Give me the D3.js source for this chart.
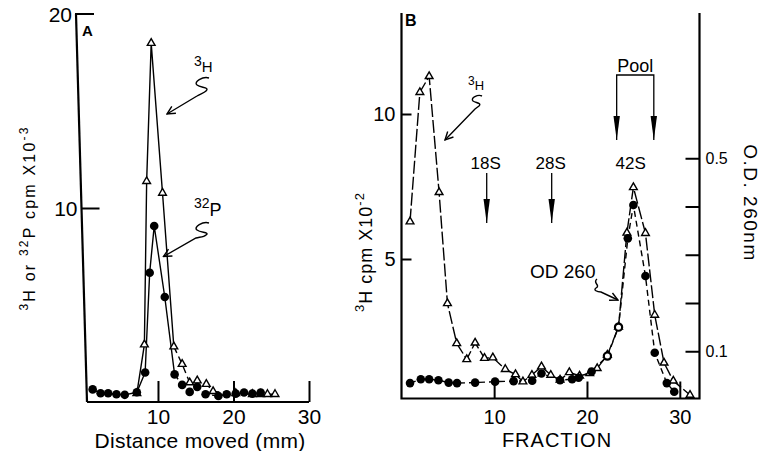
<!DOCTYPE html>
<html>
<head>
<meta charset="utf-8">
<script src="https://cdn.jsdelivr.net/npm/d3@7"></script>
<style>
  body { margin: 0; background: #fff; }
  svg { display: block; }
  text { font-family: "Liberation Sans", Arial, sans-serif; fill: #000; }
</style>
</head>
<body>
<svg id="chart" width="763" height="451"></svg>
<script>
// Panel A: distance moved (mm) vs cpm x10^-3
const distH3 = [7.2, 8.2, 8.5, 9.1, 10.6, 12.1, 13.2, 14.2, 15.2, 16.4, 17.3, 20.3, 22.5, 23.6, 24.5, 25.5];
const cpmH3 = [0.5, 3.0, 11.4, 18.5, 10.8, 2.9, 2.0, 1.05, 1.15, 0.97, 0.6, 0.5, 0.45, 0.45, 0.45, 0.45];
const distP32 = [1.35, 2.4, 3.4, 4.5, 5.6, 7.2, 8.3, 8.9, 9.5, 10.9, 12.2, 13.2, 14.2, 15.2, 16.3, 18.0, 19.1, 20.3, 21.4, 22.5, 23.6];
const cpmP32 = [0.7, 0.5, 0.5, 0.45, 0.42, 0.55, 1.57, 6.7, 9.1, 5.45, 1.47, 0.93, 0.57, 0.83, 0.45, 0.36, 0.45, 0.48, 0.54, 0.48, 0.54];
const ticksAX = [10, 20, 30];
const ticksAY = [10, 20];

// Panel B: fraction vs 3H cpm x10^-2 (left) and OD 260 (right)
const fracH3 = [0.94, 2.0, 3.0, 4.07, 4.97, 5.97, 7.05, 7.95, 8.96, 9.86, 11.2, 12.3, 13.1, 14.07, 15.1, 16.1, 17.1, 18.1, 19.2, 20.3, 21.1, 22.2, 23.4, 24.3, 25.0, 26.3, 27.3, 28.3, 29.3, 31.1];
const cpmH3B = [6.29, 10.75, 11.3, 7.3, 3.47, 2.09, 1.54, 2.11, 1.58, 1.6, 1.2, 1.02, 0.77, 1.0, 1.29, 1.0, 0.83, 1.09, 0.97, 1.06, 1.23, 1.69, 2.66, 5.9, 7.47, 5.89, 3.07, 1.42, 0.8, 0.31];
const fracOD = [0.94, 2.1, 3.0, 4.0, 5.1, 6.0, 7.95, 10.1, 12.1, 14.1, 15.1, 17.1, 18.4, 19.1, 20.5, 22.2, 23.4, 24.4, 25.0, 26.3, 27.3, 28.6, 29.4];
const od260 = [0.034, 0.042, 0.042, 0.04, 0.035, 0.034, 0.035, 0.037, 0.038, 0.039, 0.054, 0.04, 0.042, 0.045, 0.058, 0.09, 0.15, 0.334, 0.403, 0.256, 0.097, 0.034, 0.016];
const ticksBX = [10, 20, 30];
const ticksBY = [5, 10];
const ticksOD = [0.1, 0.2, 0.3, 0.4, 0.5];
const labelledOD = [0.1, 0.5];

// sedimentation markers and pooled fractions
const markerNames = ['18S', '28S'];
const markerFractions = [9.2, 16.2];
const poolFractions = [23.2, 27.2];
const peakLabel = '42S';
const peakFraction = 24.7;

const zip = (xs, ys) => xs.map((x, i) => [x, ys[i]]);
const svg = d3.select('#chart');

const defs = svg.append('defs');
defs.append('marker')
  .attr('id', 'open-head')
  .attr('viewBox', '0 0 10 10')
  .attr('refX', 9).attr('refY', 5)
  .attr('markerWidth', 10).attr('markerHeight', 10)
  .attr('markerUnits', 'userSpaceOnUse')
  .attr('orient', 'auto')
  .append('path')
  .attr('d', 'M1,1 L9,5 L1,9')
  .attr('fill', 'none').attr('stroke', '#000').attr('stroke-width', 1.4);
defs.append('marker')
  .attr('id', 'solid-head')
  .attr('viewBox', '0 0 24 7')
  .attr('refX', 24).attr('refY', 3.5)
  .attr('markerWidth', 24).attr('markerHeight', 7)
  .attr('markerUnits', 'userSpaceOnUse')
  .attr('orient', 'auto-start-reverse')
  .append('path')
  .attr('d', 'M0,0.3 L24,3.5 L0,6.7 Z')
  .attr('fill', '#000');

// small helper for text with superscripts, parts = [[text, isSup], ...]
function richText(g, parts, size, supSize) {
  const t = g.append('text').attr('font-size', size);
  let shift = 0;
  parts.forEach(([s, sup]) => {
    const want = sup ? -size * 0.42 : 0;
    t.append('tspan')
      .attr('dy', want - shift)
      .attr('font-size', sup ? supSize : size)
      .text(s);
    shift = want;
  });
  return t;
}

function drawSeries(g, data, x, y, dash, splitAt) {
  const line = d3.line().x(d => x(d[0])).y(d => y(d[1]));
  if (splitAt != null) {
    g.append('path').datum(data.slice(0, splitAt + 1))
      .attr('d', line).attr('fill', 'none').attr('stroke', '#000').attr('stroke-width', 1.4);
    g.append('path').datum(data.slice(splitAt))
      .attr('d', line).attr('fill', 'none').attr('stroke', '#000').attr('stroke-width', 1.4)
      .attr('stroke-dasharray', dash);
  } else {
    g.append('path').datum(data)
      .attr('d', line).attr('fill', 'none').attr('stroke', '#000').attr('stroke-width', 1.4)
      .attr('stroke-dasharray', dash);
  }
}

function drawTriangles(g, data, x, y) {
  g.selectAll(null).data(data).enter().append('path')
    .attr('d', d3.symbol(d3.symbolTriangle).size(26))
    .attr('transform', d => `translate(${x(d[0])},${y(d[1])})`)
    .attr('fill', '#fff').attr('stroke', '#000').attr('stroke-width', 1.4);
}

function drawCircles(g, data, x, y, openSet) {
  const isOpen = d => openSet && openSet.includes(d[0]);
  g.selectAll(null).data(data).enter().append('circle')
    .attr('cx', d => x(d[0])).attr('cy', d => y(d[1]))
    .attr('r', d => isOpen(d) ? 3.6 : 4.3)
    .attr('fill', d => isOpen(d) ? '#fff' : '#000')
    .attr('stroke', '#000')
    .attr('stroke-width', d => isOpen(d) ? 2.2 : 0);
}

// ---------------- Panel A ----------------
const xA = d3.scaleLinear().domain([0.6, 30]).range([87, 309]);
const yA = d3.scaleLinear().domain([0, 20]).range([403, 14]);
const gA = svg.append('g');

// hand-drawn left axis leans slightly
const axTop = [76, 14], axBot = [87, 402];
const axX = yy => axTop[0] + (axBot[0] - axTop[0]) * (yy - axTop[1]) / (axBot[1] - axTop[1]);
gA.append('line')
  .attr('x1', axTop[0]).attr('y1', axTop[1]).attr('x2', axBot[0]).attr('y2', axBot[1])
  .attr('stroke', '#000').attr('stroke-width', 2.2);
gA.append('line')
  .attr('x1', axBot[0]).attr('y1', 402).attr('x2', xA(30)).attr('y2', 402)
  .attr('stroke', '#000').attr('stroke-width', 2.2);
gA.selectAll('.ytick').data(ticksAY).enter().append('line')
  .attr('x1', d => axX(yA(d)) - (d === 20 ? 1 : 0))
  .attr('x2', d => axX(yA(d)) + 18)
  .attr('y1', d => yA(d)).attr('y2', d => yA(d))
  .attr('stroke', '#000').attr('stroke-width', 2);
gA.selectAll('.ylab').data(ticksAY).enter().append('text')
  .attr('x', d => axX(yA(d)) - 4)
  .attr('y', d => yA(d))
  .attr('dy', '0.36em')
  .attr('text-anchor', 'end')
  .attr('font-size', 21)
  .text(d => d);

const axisAX = gA.append('g')
  .attr('transform', 'translate(0,402)')
  .call(d3.axisBottom(xA).tickValues(ticksAX).tickSizeInner(-21).tickSizeOuter(0).tickPadding(7));
axisAX.select('.domain').remove();
axisAX.attr('font-family', null).attr('font-size', null);
axisAX.selectAll('line').attr('stroke-width', 2);
axisAX.selectAll('text').attr('font-size', 21);

gA.append('text').attr('x', 82).attr('y', 36).attr('font-size', 15).attr('font-weight', 'bold').text('A');

gA.append('text')
  .attr('x', 200).attr('y', 448)
  .attr('text-anchor', 'middle').attr('font-size', 21).attr('letter-spacing', 0.3)
  .text('Distance moved (mm)');

const yTitleA = gA.append('g').attr('transform', 'translate(35,218) rotate(-90)');
richText(yTitleA, [['3', true], ['H or ', false], ['32', true], ['P cpm X10', false], ['-3', true]], 16, 12)
  .attr('text-anchor', 'middle').attr('letter-spacing', 2.2);

const dataH3A = zip(distH3, cpmH3);
const dataP32A = zip(distP32, cpmP32);
drawSeries(gA, dataP32A, xA, yA, '6,4', distP32.indexOf(12.2));
drawSeries(gA, dataH3A, xA, yA, '7,4', distH3.indexOf(12.1));
drawTriangles(gA, dataH3A, xA, yA);
drawCircles(gA, dataP32A, xA, yA);

// annotations A
const lblH3A = gA.append('g').attr('transform', 'translate(194,72)');
richText(lblH3A, [['3', true], ['H', false]], 15, 14);
gA.append('path')
  .attr('d', 'M209,78 C203,76 193,82 197,85 C201,88 210,87 206,91 C204,93 200,94 197,96 L167,114')
  .attr('fill', 'none').attr('stroke', '#000').attr('stroke-width', 1.4)
  .attr('marker-end', 'url(#open-head)');
const lblP32A = gA.append('g').attr('transform', 'translate(194,216)');
richText(lblP32A, [['32', true], ['P', false]], 18, 14);
gA.append('path')
  .attr('d', 'M209,223 C203,221 193,227 197,230 C201,233 210,232 206,235 C204,237 200,237 196,238 L163.5,256.5')
  .attr('fill', 'none').attr('stroke', '#000').attr('stroke-width', 1.4)
  .attr('marker-end', 'url(#open-head)');

// ---------------- Panel B ----------------
const xB = d3.scaleLinear().domain([0, 32.1]).range([401.3, 699.3]);
const yB = d3.scaleLinear().domain([0, 13.5]).range([404, 12.5]);
const yOD = d3.scaleLinear().domain([0, 0.8]).range([399.5, 13.5]);
const gB = svg.append('g');

gB.append('path')
  .attr('d', 'M401.5,13 V398.5 H699.5 V13')
  .attr('fill', 'none').attr('stroke', '#000').attr('stroke-width', 2.2);

const axisBX = gB.append('g')
  .attr('transform', 'translate(0,398.5)')
  .call(d3.axisBottom(xB).tickValues(ticksBX).tickSizeInner(-17).tickSizeOuter(0).tickPadding(11));
const axisBY = gB.append('g')
  .attr('transform', 'translate(401.5,0)')
  .call(d3.axisLeft(yB).tickValues(ticksBY).tickSizeInner(-10).tickSizeOuter(0).tickPadding(6));
const axisOD = gB.append('g')
  .attr('transform', 'translate(699.5,0)')
  .call(d3.axisRight(yOD).tickValues(ticksOD).tickSizeInner(-14).tickSizeOuter(0).tickPadding(6)
    .tickFormat(d => labelledOD.includes(d) ? d3.format('.1f')(d) : ''));
[axisBX, axisBY, axisOD].forEach(a => {
  a.select('.domain').remove();
  a.attr('font-family', null).attr('font-size', null);
  a.selectAll('line').attr('stroke-width', 2);
});
axisBX.selectAll('text').attr('font-size', 20);
axisBY.selectAll('text').attr('font-size', 20);
axisOD.selectAll('text').attr('font-size', 16);

gB.append('text').attr('x', 405).attr('y', 26).attr('font-size', 16).attr('font-weight', 'bold').text('B');

gB.append('text')
  .attr('x', 557).attr('y', 447)
  .attr('text-anchor', 'middle').attr('font-size', 20).attr('letter-spacing', 1)
  .text('FRACTION');

const yTitleB = gB.append('g').attr('transform', 'translate(372,252) rotate(-90)');
richText(yTitleB, [['3', true], ['H cpm X10', false], ['-2', true]], 18, 13)
  .attr('text-anchor', 'middle').attr('letter-spacing', 1);

gB.append('g').attr('transform', 'translate(744,203) rotate(90)')
  .append('text').attr('text-anchor', 'middle').attr('font-size', 19).attr('letter-spacing', 1.5)
  .text('O.D. 260nm');

const dataH3B = zip(fracH3, cpmH3B);
const dataOD = zip(fracOD, od260);
const openOD = [22.2, 23.4];
drawSeries(gB, dataOD, xB, yOD, '6,4');
drawSeries(gB, dataH3B, xB, yB, '13,3');
drawTriangles(gB, dataH3B, xB, yB);
drawCircles(gB, dataOD, xB, yOD, openOD);

// 18S / 28S arrows
markerNames.forEach((name, i) => {
  const x = xB(markerFractions[i]);
  gB.append('text').attr('x', x - 1).attr('y', 169).attr('text-anchor', 'middle').attr('font-size', 17).text(name);
  gB.append('line').attr('x1', x).attr('x2', x).attr('y1', 173).attr('y2', 223)
    .attr('stroke', '#000').attr('stroke-width', 1.3).attr('marker-end', 'url(#solid-head)');
});
gB.append('text').attr('x', xB(peakFraction)).attr('y', 169).attr('text-anchor', 'middle').attr('font-size', 17).text(peakLabel);

// pool bracket
const p0 = xB(poolFractions[0]), p1 = xB(poolFractions[1]);
gB.append('path')
  .attr('d', `M${p0},140 V75 H${p1} V140`)
  .attr('fill', 'none').attr('stroke', '#000').attr('stroke-width', 1.3)
  .attr('marker-start', 'url(#solid-head)').attr('marker-end', 'url(#solid-head)');
gB.append('text').attr('x', (p0 + p1) / 2).attr('y', 72).attr('text-anchor', 'middle').attr('font-size', 18).text('Pool');

// 3H and OD 260 callouts
const lblH3B = gB.append('g').attr('transform', 'translate(468,90)');
richText(lblH3B, [['3', true], ['H', false]], 13, 12);
gB.append('path')
  .attr('d', 'M482,96 C478,94 470,98 473,101 C476,103 482,103 479,106 L475,109 L445,140')
  .attr('fill', 'none').attr('stroke', '#000').attr('stroke-width', 1.4)
  .attr('marker-end', 'url(#open-head)');
gB.append('text').attr('x', 530).attr('y', 278).attr('font-size', 19).text('OD 260');
gB.append('path')
  .attr('d', 'M597,279 C592,283 601,285 596,288 C593,290 597,292 601,292 L618,300')
  .attr('fill', 'none').attr('stroke', '#000').attr('stroke-width', 1.4)
  .attr('marker-end', 'url(#open-head)');
</script>
</body>
</html>
